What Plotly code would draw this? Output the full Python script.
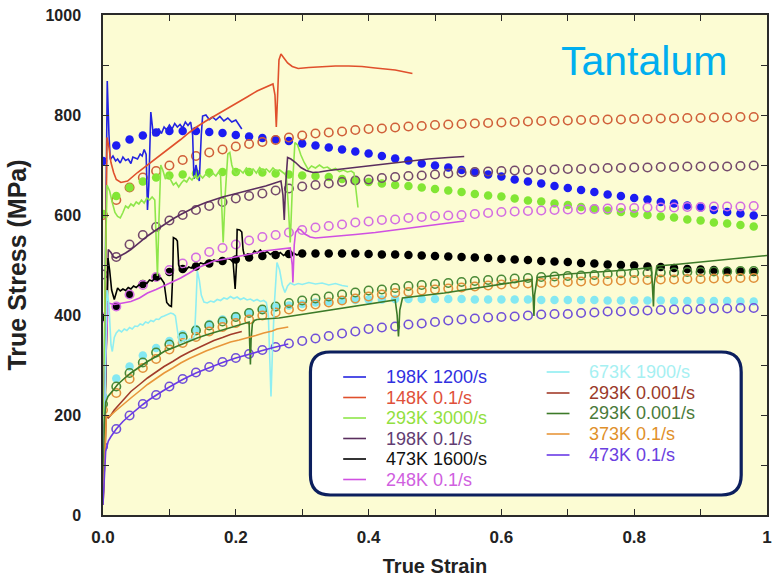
import plotly.graph_objects as go

# ---------------- model predictions (markers), sampled every 0.02 strain ----------------
STRAIN_GRID = [0.00, 0.02, 0.04, 0.06, 0.08, 0.10, 0.12, 0.14, 0.16, 0.18,
               0.20, 0.22, 0.24, 0.26, 0.28, 0.30, 0.32, 0.34, 0.36, 0.38,
               0.40, 0.42, 0.44, 0.46, 0.48, 0.50, 0.52, 0.54, 0.56, 0.58,
               0.60, 0.62, 0.64, 0.66, 0.68, 0.70, 0.72, 0.74, 0.76, 0.78,
               0.80, 0.82, 0.84, 0.86, 0.88, 0.90, 0.92, 0.94, 0.96, 0.98]

model_198K_1200 = [708, 739, 751, 759, 765, 768, 768, 768, 766, 764,
                   760, 757, 754, 751, 748, 743, 739, 735, 731, 727,
                   723, 718, 713, 709, 703, 699, 695, 690, 685, 681,
                   677, 671, 667, 663, 658, 654, 650, 646, 641, 638,
                   634, 631, 626, 623, 619, 615, 610, 606, 603, 599]
model_148K_01 = [600, 630, 655, 675, 688, 699, 710, 718, 725, 731,
                 737, 742, 746, 750, 755, 759, 763, 765, 767, 770,
                 772, 773, 775, 777, 778, 780, 781, 782, 783, 784,
                 785, 786, 787, 788, 788, 789, 790, 790, 791, 791,
                 792, 792, 793, 793, 794, 794, 795, 795, 796, 796]
model_293K_3000 = [602, 638, 655, 667, 675, 679, 681, 683, 685, 686,
                   686, 686, 685, 683, 681, 679, 678, 676, 672, 669,
                   666, 663, 660, 658, 655, 652, 649, 646, 642, 639,
                   637, 633, 629, 627, 623, 620, 616, 613, 609, 606,
                   603, 600, 597, 595, 591, 589, 585, 583, 580, 577]
model_198K_01 = [481, 516, 541, 560, 576, 589, 600, 610, 618, 626,
                 633, 638, 643, 649, 653, 657, 660, 663, 666, 669,
                 671, 674, 676, 678, 679, 681, 683, 685, 686, 687,
                 688, 689, 690, 690, 691, 692, 692, 693, 694, 694,
                 695, 695, 696, 696, 697, 697, 697, 697, 698, 699]
model_473K_1600 = [395, 417, 441, 462, 476, 486, 492, 497, 503, 508,
                   511, 515, 518, 520, 522, 523, 523, 523, 523, 523,
                   522, 521, 521, 520, 519, 518, 517, 516, 515, 514,
                   512, 511, 510, 508, 507, 506, 504, 503, 501, 500,
                   499, 497, 496, 494, 492, 491, 490, 488, 487, 486]
model_248K_01 = [395, 417, 441, 460, 476, 490, 503, 515, 526, 534,
                 541, 549, 556, 560, 565, 570, 575, 578, 581, 585,
                 587, 590, 591, 594, 596, 598, 599, 600, 602, 604,
                 606, 607, 608, 609, 610, 611, 611, 612, 613, 614,
                 614, 615, 615, 615, 616, 616, 617, 617, 617, 618]
model_673K_1900 = [238, 273, 297, 319, 334, 348, 361, 372, 382, 391,
                   398, 405, 410, 415, 419, 422, 425, 427, 429, 430,
                   431, 431, 432, 432, 432, 432, 432, 432, 431, 431,
                   431, 431, 431, 430, 430, 430, 430, 430, 429, 429,
                   429, 429, 429, 428, 428, 428, 428, 428, 427, 427]
model_293K_0001 = [222, 257, 284, 305, 325, 341, 356, 369, 379, 387,
                   396, 404, 411, 417, 424, 429, 433, 437, 441, 445,
                   449, 451, 454, 458, 460, 462, 464, 466, 468, 470,
                   471, 473, 474, 476, 477, 478, 479, 480, 482, 483,
                   484, 484, 485, 485, 486, 486, 487, 487, 488, 488]
model_373K_01 = [210, 244, 272, 294, 312, 331, 344, 356, 367, 376,
                 384, 391, 399, 405, 411, 417, 421, 425, 429, 433,
                 437, 441, 444, 446, 449, 451, 453, 455, 457, 459,
                 461, 462, 463, 464, 465, 466, 467, 468, 468, 469,
                 470, 470, 471, 471, 472, 472, 473, 473, 474, 474]
model_473K_01 = [137, 172, 199, 222, 240, 257, 272, 285, 296, 306,
                 314, 322, 330, 336, 343, 348, 353, 358, 363, 367,
                 372, 375, 377, 381, 383, 386, 389, 391, 393, 395,
                 396, 397, 399, 401, 402, 402, 404, 405, 407, 407,
                 408, 409, 410, 411, 411, 412, 413, 413, 414, 414]

# ---------------- measured stress-strain curves (lines) ----------------
exp_198K_1200_x = [0.000, 0.003, 0.0064, 0.009, 0.011, 0.015, 0.019, 0.022, 0.026, 0.030,
                   0.034, 0.038, 0.042, 0.045, 0.048, 0.052, 0.056, 0.059, 0.062, 0.065,
                   0.067, 0.069, 0.072, 0.076, 0.080, 0.084, 0.088, 0.092, 0.096, 0.100,
                   0.104, 0.108, 0.112, 0.116, 0.120, 0.124, 0.128, 0.132, 0.135, 0.137,
                   0.140, 0.142, 0.145, 0.148, 0.150, 0.155, 0.160, 0.165, 0.170, 0.176,
                   0.182, 0.188, 0.194, 0.200, 0.205, 0.209]
exp_198K_1200_y = [20, 400, 868, 760, 711, 718, 708, 712, 704, 716,
                   709, 712, 703, 716, 714, 712, 722, 718, 731, 721,
                   610, 660, 806, 758, 768, 772, 763, 776, 770, 780,
                   772, 783, 776, 781, 774, 786, 779, 786, 760, 672,
                   700, 688, 668, 760, 798, 800, 791, 796, 790, 797,
                   788, 794, 786, 790, 780, 772]

exp_148K_01_x = [0.000, 0.004, 0.006, 0.009, 0.012, 0.016, 0.020, 0.027, 0.037, 0.052,
                 0.072, 0.092, 0.105, 0.117, 0.130, 0.142, 0.155, 0.167, 0.180, 0.192,
                 0.205, 0.217, 0.232, 0.245, 0.256, 0.259, 0.261, 0.263, 0.265, 0.268,
                 0.272, 0.278, 0.285, 0.294, 0.310, 0.330, 0.350, 0.370, 0.390, 0.410,
                 0.440, 0.466]
exp_148K_01_y = [20, 500, 755, 735, 705, 685, 671, 665, 668, 685,
                 705, 725, 738, 751, 765, 777, 788, 797, 807, 817,
                 827, 836, 848, 856, 862, 840, 776, 840, 910, 922,
                 915, 904, 897, 893, 895, 897, 898, 898, 897, 894,
                 890, 883]

exp_293K_3000_x = [0.000, 0.003, 0.006, 0.010, 0.014, 0.018, 0.022, 0.026, 0.030, 0.034,
                   0.038, 0.042, 0.046, 0.050, 0.054, 0.058, 0.062, 0.066, 0.070, 0.074,
                   0.078, 0.080, 0.082, 0.084, 0.087, 0.090, 0.094, 0.098, 0.102, 0.106,
                   0.110, 0.114, 0.118, 0.122, 0.126, 0.130, 0.134, 0.138, 0.142, 0.146,
                   0.150, 0.155, 0.160, 0.165, 0.170, 0.174, 0.177, 0.179, 0.181, 0.184,
                   0.188, 0.191, 0.194, 0.197, 0.201, 0.206, 0.211, 0.216, 0.221, 0.226,
                   0.231, 0.236, 0.241, 0.246, 0.251, 0.256, 0.261, 0.266, 0.272, 0.276,
                   0.279, 0.282, 0.285, 0.289, 0.293, 0.298, 0.303, 0.309, 0.314, 0.320,
                   0.326, 0.332, 0.338, 0.344, 0.350, 0.356, 0.362, 0.368, 0.374, 0.378,
                   0.381, 0.384]
exp_293K_3000_y = [20, 450, 660, 648, 625, 605, 597, 594, 605, 618,
                   614, 622, 618, 626, 622, 630, 624, 634, 630, 636,
                   630, 560, 478, 580, 700, 690, 672, 680, 670, 660,
                   665, 656, 664, 670, 666, 675, 670, 678, 672, 680,
                   674, 682, 676, 684, 678, 686, 680, 600, 545, 640,
                   722, 725, 700, 688, 681, 690, 684, 694, 688, 692,
                   684, 695, 688, 692, 686, 694, 688, 690, 685, 680,
                   620, 545, 650, 745, 740, 720, 705, 691, 698, 694,
                   700, 694, 696, 690, 693, 687, 690, 686, 688, 684,
                   650, 615]

exp_198K_01_x = [0.000, 0.004, 0.008, 0.012, 0.016, 0.020, 0.026, 0.034, 0.042, 0.055,
                 0.067, 0.080, 0.092, 0.105, 0.117, 0.130, 0.142, 0.155, 0.167, 0.180,
                 0.192, 0.205, 0.217, 0.230, 0.245, 0.260, 0.268, 0.271, 0.273, 0.275,
                 0.278, 0.283, 0.290, 0.298, 0.306, 0.316, 0.326, 0.340, 0.360, 0.380,
                 0.400, 0.430, 0.460, 0.490, 0.520, 0.544]
exp_198K_01_y = [20, 300, 531, 525, 516, 514, 518, 524, 531, 545,
                 558, 570, 581, 592, 601, 610, 618, 625, 631, 636,
                 640, 644, 648, 653, 658, 664, 668, 640, 590, 660,
                 715, 712, 705, 695, 689, 685, 686, 689, 692, 695,
                 699, 704, 708, 712, 715, 717]

exp_473K_1600_x = [0.000, 0.003, 0.0075, 0.010, 0.013, 0.017, 0.020, 0.022, 0.026, 0.030,
                   0.034, 0.038, 0.042, 0.046, 0.050, 0.054, 0.058, 0.062, 0.066, 0.070,
                   0.074, 0.078, 0.082, 0.087, 0.092, 0.096, 0.100, 0.103, 0.105, 0.106,
                   0.110, 0.112, 0.114, 0.117, 0.121, 0.125, 0.129, 0.133, 0.137, 0.142,
                   0.147, 0.152, 0.157, 0.162, 0.167, 0.172, 0.177, 0.182, 0.187, 0.192,
                   0.196, 0.199, 0.201, 0.202, 0.206, 0.209, 0.211, 0.213, 0.218, 0.223,
                   0.228, 0.232, 0.237, 0.242, 0.247, 0.252, 0.257, 0.262, 0.267, 0.272,
                   0.277, 0.282, 0.287, 0.292, 0.297]
exp_473K_1600_y = [20, 250, 514, 490, 450, 431, 445, 454, 448, 452,
                   449, 455, 452, 458, 455, 460, 458, 465, 463, 470,
                   468, 473, 470, 474, 464, 425, 419, 417, 480, 555,
                   552, 548, 500, 488, 492, 490, 496, 494, 500, 498,
                   504, 502, 508, 505, 510, 507, 512, 509, 513, 511,
                   505, 452, 500, 571, 570, 566, 530, 518, 522, 518,
                   528, 524, 530, 522, 527, 521, 526, 520, 525, 519,
                   524, 518, 524, 520, 523]

exp_248K_01_x = [0.000, 0.004, 0.0075, 0.012, 0.017, 0.030, 0.042, 0.055, 0.067, 0.080,
                 0.092, 0.105, 0.117, 0.130, 0.142, 0.155, 0.167, 0.180, 0.192, 0.205,
                 0.217, 0.230, 0.242, 0.255, 0.270, 0.282, 0.285, 0.286, 0.288, 0.290,
                 0.294, 0.298, 0.304, 0.312, 0.320, 0.350, 0.380, 0.410, 0.444, 0.480,
                 0.510, 0.544]
exp_248K_01_y = [20, 300, 424, 422, 421, 424, 427, 434, 444, 451,
                 458, 466, 474, 484, 494, 501, 508, 511, 514, 517,
                 521, 524, 528, 530, 532, 534, 500, 465, 540, 565,
                 572, 570, 562, 556, 554, 557, 561, 565, 571, 578,
                 583, 588]

exp_673K_1900_x = [0.000, 0.003, 0.006, 0.009, 0.012, 0.014, 0.017, 0.020, 0.024, 0.028,
                   0.032, 0.036, 0.040, 0.044, 0.048, 0.052, 0.056, 0.060, 0.064, 0.068,
                   0.072, 0.076, 0.080, 0.084, 0.088, 0.092, 0.097, 0.102, 0.106, 0.109,
                   0.112, 0.115, 0.119, 0.123, 0.127, 0.131, 0.135, 0.138, 0.140, 0.142,
                   0.145, 0.148, 0.152, 0.157, 0.162, 0.167, 0.172, 0.177, 0.182, 0.187,
                   0.192, 0.197, 0.202, 0.207, 0.212, 0.217, 0.222, 0.227, 0.232, 0.237,
                   0.242, 0.246, 0.249, 0.251, 0.253, 0.255, 0.258, 0.262, 0.266, 0.270,
                   0.274, 0.278, 0.282, 0.288, 0.294, 0.300, 0.310, 0.320, 0.330, 0.340,
                   0.350, 0.360, 0.369]
exp_673K_1900_y = [20, 250, 450, 420, 340, 327, 355, 364, 370, 366,
                   372, 369, 375, 372, 378, 377, 382, 380, 386, 384,
                   389, 387, 392, 391, 396, 398, 401, 404, 402, 398,
                   370, 344, 346, 350, 348, 352, 350, 360, 420, 488,
                   470, 440, 426, 424, 428, 426, 431, 429, 434, 432,
                   437, 433, 436, 431, 434, 430, 432, 428, 431, 427,
                   429, 425, 400, 300, 237, 320, 420, 505, 490, 460,
                   445, 458, 464, 460, 463, 461, 465, 462, 464, 460,
                   463, 459, 457]

exp_293K_0001a_x = [0.000, 0.003, 0.005, 0.008, 0.012, 0.017, 0.022, 0.032, 0.042, 0.055,
                    0.067, 0.080, 0.092, 0.105, 0.117, 0.130, 0.142, 0.155, 0.167, 0.180,
                    0.192, 0.209]
exp_293K_0001a_y = [20, 150, 197, 194, 200, 210, 217, 233, 247, 261,
                    274, 286, 297, 307, 317, 326, 334, 342, 349, 355,
                    361, 367]

exp_293K_0001b_x = [0.000, 0.002, 0.004, 0.0075, 0.015, 0.022, 0.032, 0.042, 0.055, 0.067,
                    0.080, 0.092, 0.105, 0.117, 0.130, 0.142, 0.155, 0.167, 0.180, 0.192,
                    0.209, 0.220, 0.221, 0.222, 0.223, 0.225, 0.228, 0.232, 0.265, 0.314,
                    0.364, 0.414, 0.440, 0.443, 0.445, 0.447, 0.451, 0.514, 0.564, 0.613,
                    0.646, 0.648, 0.649, 0.650, 0.654, 0.700, 0.750, 0.790, 0.826, 0.828,
                    0.829, 0.830, 0.834, 0.862, 0.900, 0.950, 1.000]
exp_293K_0001b_y = [20, 180, 225, 237, 249, 261, 273, 284, 296, 307,
                    317, 327, 334, 341, 348, 354, 360, 365, 370, 374,
                    381, 386, 340, 301, 350, 383, 389, 391, 394, 404,
                    414, 424, 430, 400, 357, 410, 434, 444, 454, 464,
                    471, 430, 398, 440, 475, 482, 486, 490, 495, 450,
                    417, 460, 498, 501, 506, 512, 519]

exp_373K_01_x = [0.000, 0.003, 0.005, 0.0075, 0.012, 0.018, 0.030, 0.042, 0.055, 0.067,
                 0.080, 0.092, 0.105, 0.117, 0.130, 0.142, 0.155, 0.167, 0.180, 0.192,
                 0.205, 0.217, 0.230, 0.242, 0.255, 0.262, 0.279]
exp_373K_01_y = [20, 150, 200, 197, 200, 207, 221, 234, 248, 261,
                 273, 284, 294, 304, 313, 321, 328, 334, 340, 346,
                 350, 354, 359, 364, 368, 372, 376]

exp_473K_01_x = [0.000, 0.002, 0.004, 0.008, 0.012, 0.020, 0.030, 0.040, 0.050, 0.060,
                 0.070, 0.080, 0.090, 0.100, 0.120, 0.140, 0.160, 0.180, 0.200, 0.220,
                 0.240, 0.260, 0.279]
exp_473K_01_y = [20, 80, 127, 148, 157, 172, 187, 199, 211, 221,
                 231, 240, 248, 256, 271, 284, 295, 305, 314, 322,
                 329, 336, 342]

# legend labels, in the two-column order of the key
LABELS_LEFT = ["198K 1200/s", "148K 0.1/s", "293K 3000/s", "198K 0.1/s", "473K 1600/s", "248K 0.1/s"]
LABELS_RIGHT = ["673K 1900/s", "293K 0.001/s", "293K 0.001/s", "373K 0.1/s", "473K 0.1/s"]

# ---------------- styling ----------------
series = [
    # label, line color, line x, line y, model y, marker color, filled
    ("198K 1200/s", "#2424E0", exp_198K_1200_x, exp_198K_1200_y, model_198K_1200, "#1C1CF2", True),
    ("148K 0.1/s", "#E0502C", exp_148K_01_x, exp_148K_01_y, model_148K_01, "#D0603A", False),
    ("293K 3000/s", "#8EE64A", exp_293K_3000_x, exp_293K_3000_y, model_293K_3000, "#82E634", True),
    ("198K 0.1/s", "#5A2E5E", exp_198K_01_x, exp_198K_01_y, model_198K_01, "#744A6C", False),
    ("473K 1600/s", "#000000", exp_473K_1600_x, exp_473K_1600_y, model_473K_1600, "#000000", True),
    ("248K 0.1/s", "#D050E2", exp_248K_01_x, exp_248K_01_y, model_248K_01, "#D46EE2", False),
    ("673K 1900/s", "#8EEEF2", exp_673K_1900_x, exp_673K_1900_y, model_673K_1900, "#84E8F2", True),
    ("293K 0.001/s", "#A23C2A", exp_293K_0001a_x, exp_293K_0001a_y, None, None, False),
    ("293K 0.001/s", "#3C7A28", exp_293K_0001b_x, exp_293K_0001b_y, model_293K_0001, "#4A8A38", False),
    ("373K 0.1/s", "#E8963A", exp_373K_01_x, exp_373K_01_y, model_373K_01, "#E0903A", False),
    ("473K 0.1/s", "#6A3AE6", exp_473K_01_x, exp_473K_01_y, model_473K_01, "#7050D8", False),
]
legend_text_colors = {
    0: "#3030E0", 1: "#E0503A", 2: "#92E040", 3: "#623C72", 4: "#111111", 5: "#D060E0",
    6: "#A6F0F2", 7: "#9A3A2A", 8: "#4A7A3A", 9: "#E0902A", 10: "#6A40E0",
}

fig = go.Figure()

# model markers
for name, lc, lx, ly, my, mc, filled in series:
    if my is None:
        continue
    if filled:
        marker = dict(symbol="circle", size=8.5, color=mc, line=dict(width=0))
    else:
        marker = dict(symbol="circle-open", size=8.5, color=mc, line=dict(width=1.6, color=mc))
    fig.add_trace(go.Scatter(x=STRAIN_GRID, y=my, mode="markers", marker=marker,
                             name=name + " model", showlegend=False, cliponaxis=True))

# measured curves on top
for name, lc, lx, ly, my, mc, filled in series:
    fig.add_trace(go.Scatter(x=lx, y=ly, mode="lines", line=dict(color=lc, width=1.6),
                             name=name, showlegend=False))

# ---------------- layout ----------------
L, R, T, B = 103, 3, 15, 66
W, H = 775, 581
PW, PH = W - L - R, H - T - B


def px(x):
    return (x - L) / PW


def py(y):
    return (H - B - y) / PH


font_main = "Liberation Sans, Arial, Helvetica, sans-serif"
axis_col = "#2a2a2a"

fig.update_layout(
    width=W, height=H,
    margin=dict(l=L, r=R, t=T, b=B, pad=0),
    paper_bgcolor="white",
    plot_bgcolor="#FCFCD3",
    showlegend=False,
    xaxis=dict(
        range=[0, 1], tickvals=[0, 0.2, 0.4, 0.6, 0.8, 1.0],
        ticktext=["0.0", "0.2", "0.4", "0.6", "0.8", "1"],
        ticks="inside", ticklen=6, tickwidth=1.2, tickcolor=axis_col,
        minor=dict(ticks="inside", ticklen=6, tickwidth=1.2, tickcolor=axis_col, dtick=0.1, showgrid=False),
        showline=True, linecolor=axis_col, linewidth=1.5, mirror="ticks",
        showgrid=False, zeroline=False,
        tickfont=dict(family=font_main, size=17, color="#222", weight="bold"),
        ticklabelstandoff=6,
        title=dict(text="True Strain", font=dict(family=font_main, size=20, color="#222", weight="bold"),
                   standoff=13),
    ),
    yaxis=dict(
        range=[0, 1000], tickvals=[0, 200, 400, 600, 800, 1000],
        ticks="inside", ticklen=6, tickwidth=1.2, tickcolor=axis_col,
        minor=dict(ticks="inside", ticklen=6, tickwidth=1.2, tickcolor=axis_col, dtick=100, showgrid=False),
        showline=True, linecolor=axis_col, linewidth=1.5, mirror="ticks",
        showgrid=False, zeroline=False,
        tickfont=dict(family=font_main, size=16, color="#222", weight="bold"),
        ticklabelstandoff=17,
        title=dict(text="True Stress (MPa)", font=dict(family=font_main, size=25, color="#222", weight="bold"),
                   standoff=12),
    ),
)

# material name
fig.add_annotation(text="Tantalum", xref="paper", yref="paper", x=px(648), y=py(61),
                   xanchor="center", yanchor="middle", showarrow=False,
                   font=dict(family=font_main, size=41, color="#00AEEF"))

# key: rounded box
x0, x1, y0, y1, rad = 312, 746, 352, 495, 20
path = (f"M {px(x0 + rad)},{py(y0)} L {px(x1 - rad)},{py(y0)} Q {px(x1)},{py(y0)} {px(x1)},{py(y0 + rad)} "
        f"L {px(x1)},{py(y1 - rad)} Q {px(x1)},{py(y1)} {px(x1 - rad)},{py(y1)} "
        f"L {px(x0 + rad)},{py(y1)} Q {px(x0)},{py(y1)} {px(x0)},{py(y1 - rad)} "
        f"L {px(x0)},{py(y0 + rad)} Q {px(x0)},{py(y0)} {px(x0 + rad)},{py(y0)} Z")
fig.add_shape(type="path", path=path, xref="paper", yref="paper",
              fillcolor="white", line=dict(color="#0C1F5E", width=3.2), layer="above")

left_rows = [377, 397.5, 418, 438.5, 459, 479.5]
right_rows = [372, 393, 413.5, 434, 455]
key_font = dict(family=font_main, size=18)
for i, label in enumerate(LABELS_LEFT):
    col = series[i][1]
    yy = py(left_rows[i])
    fig.add_shape(type="line", xref="paper", yref="paper", x0=px(345), x1=px(368), y0=yy, y1=yy,
                  line=dict(color=col, width=1.6), layer="above")
    fig.add_annotation(text=label, xref="paper", yref="paper", x=px(386), y=yy, xanchor="left",
                       yanchor="middle", showarrow=False,
                       font=dict(color=legend_text_colors[i], **key_font))
for j, label in enumerate(LABELS_RIGHT):
    k = j + len(LABELS_LEFT)
    col = series[k][1]
    yy = py(right_rows[j])
    fig.add_shape(type="line", xref="paper", yref="paper", x0=px(550), x1=px(573), y0=yy, y1=yy,
                  line=dict(color=col, width=1.6), layer="above")
    fig.add_annotation(text=label, xref="paper", yref="paper", x=px(591), y=yy, xanchor="left",
                       yanchor="middle", showarrow=False,
                       font=dict(color=legend_text_colors[k], **key_font))

fig.write_html("out.html")
